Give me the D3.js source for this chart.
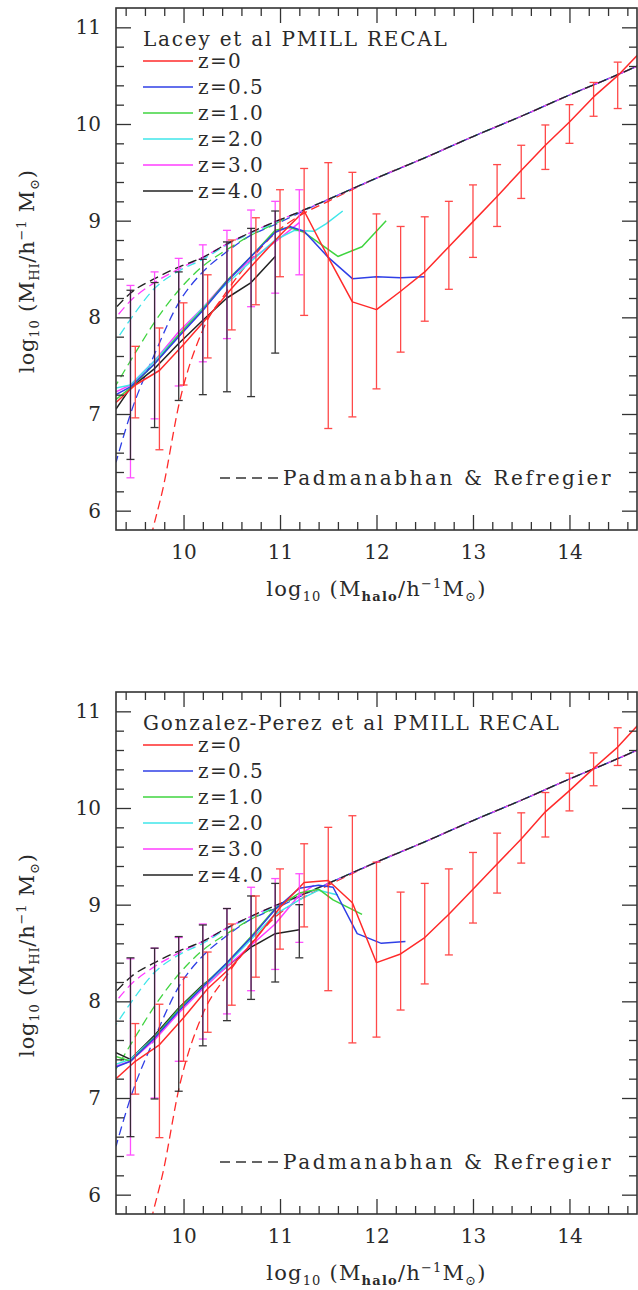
<!DOCTYPE html>
<html><head><meta charset="utf-8">
<script src="https://cdn.jsdelivr.net/npm/d3@7"></script>
<style>
body{margin:0;background:#fff}
svg{display:block}
text{font-family:"DejaVu Serif",serif;fill:#2a2a2a}
</style>
</head><body>
<svg id="chart" width="638" height="1290"></svg>
<script>
// ---------------- data ----------------
const xDomain = [9.3, 14.7];
const yDomain = [5.8, 11.2];
const xTickValues = [10, 11, 12, 13, 14];
const yTickValues = [6, 7, 8, 9, 10, 11];
const seriesLabels = ["z=0", "z=0.5", "z=1.0", "z=2.0", "z=3.0", "z=4.0"];
const seriesColors = ["#ff2a2a", "#2f3fe6", "#3fd43f", "#3fe6ea", "#ff3cff", "#222222"];
const panelTitles = ["Lacey et al PMILL RECAL", "Gonzalez-Perez et al PMILL RECAL"];
const modelLabel = "Padmanabhan & Refregier";

// z=0 bins (both panels)
const z0X = [9.3, 9.5, 9.75, 10.0, 10.25, 10.5, 10.75, 11.0, 11.25, 11.5, 11.75, 12.0, 12.25, 12.5, 12.75, 13.0, 13.25, 13.5, 13.75, 14.0, 14.25, 14.5, 14.75];
const z0BarX = [9.5, 9.75, 10.0, 10.25, 10.5, 10.75, 11.0, 11.25, 11.5, 11.75, 12.0, 12.25, 12.5, 12.75, 13.0, 13.25, 13.5, 13.75, 14.0, 14.25, 14.5];
const hiZBarX = [9.45, 9.7, 9.95, 10.2, 10.45, 10.7, 10.95, 11.2];

// --- Lacey et al (top panel) ---
const laceyZ0Y = [7.12, 7.3, 7.45, 7.72, 8.0, 8.3, 8.58, 8.85, 9.1, 8.62, 8.16, 8.08, 8.27, 8.47, 8.73, 8.99, 9.25, 9.52, 9.78, 10.02, 10.28, 10.5, 10.76];
const laceyZ05X = [9.3, 9.45, 9.7, 9.95, 10.2, 10.45, 10.7, 10.95, 11.1, 11.25, 11.5, 11.75, 12.0, 12.25, 12.5];
const laceyZ05Y = [7.2, 7.28, 7.52, 7.8, 8.07, 8.37, 8.63, 8.88, 8.94, 8.89, 8.62, 8.4, 8.42, 8.41, 8.42];
const laceyZ1X = [9.3, 9.45, 9.7, 9.95, 10.2, 10.45, 10.7, 10.95, 11.1, 11.25, 11.6, 11.85, 12.1];
const laceyZ1Y = [7.15, 7.27, 7.52, 7.82, 8.08, 8.38, 8.63, 8.9, 8.93, 8.88, 8.63, 8.73, 9.0];
const laceyZ2X = [9.3, 9.45, 9.7, 9.95, 10.2, 10.45, 10.7, 10.95, 11.15, 11.35, 11.48, 11.65];
const laceyZ2Y = [7.27, 7.3, 7.55, 7.82, 8.1, 8.35, 8.58, 8.8, 8.9, 8.89, 8.97, 9.1];
const laceyZ3X = [9.3, 9.45, 9.7, 9.95, 10.2, 10.45, 10.7, 10.95, 11.2];
const laceyZ3Y = [7.23, 7.3, 7.55, 7.85, 8.1, 8.38, 8.6, 8.78, 8.98];
const laceyZ4X = [9.3, 9.45, 9.7, 9.95, 10.2, 10.45, 10.7, 10.95];
const laceyZ4Y = [7.05, 7.27, 7.47, 7.73, 7.97, 8.2, 8.36, 8.63];
const laceyZ0Hi = [7.7, 7.89, 8.15, 8.44, 8.8, 9.03, 9.32, 9.54, 9.6, 9.5, 9.07, 8.94, 9.04, 9.2, 9.37, 9.58, 9.78, 9.99, 10.2, 10.43, 10.64];
const laceyZ0Lo = [6.96, 6.63, 7.3, 7.58, 7.87, 8.13, 8.42, 8.02, 6.85, 6.97, 7.26, 7.64, 7.96, 8.29, 8.62, 8.94, 9.23, 9.53, 9.8, 10.08, 10.16];
const laceyZ3Hi = [8.33, 8.47, 8.61, 8.75, 8.9, 9.11, 9.2, 9.32];
const laceyZ3Lo = [6.34, 6.95, 7.29, 7.54, 7.78, 8.11, 8.25, 8.44];
const laceyZ4Hi = [8.28, 8.36, 8.47, 8.6, 8.78, 8.92, 9.1];
const laceyZ4Lo = [6.53, 6.86, 7.14, 7.2, 7.23, 7.18, 7.63];

// --- Gonzalez-Perez et al (bottom panel) ---
const gpZ0Y = [7.2, 7.38, 7.55, 7.83, 8.13, 8.36, 8.65, 8.97, 9.23, 9.25, 9.02, 8.4, 8.49, 8.66, 8.9, 9.16, 9.42, 9.68, 9.96, 10.18, 10.41, 10.63, 10.9];
const gpZ05X = [9.3, 9.45, 9.7, 9.95, 10.2, 10.45, 10.7, 10.95, 11.2, 11.4, 11.55, 11.8, 12.05, 12.3];
const gpZ05Y = [7.32, 7.38, 7.62, 7.9, 8.15, 8.4, 8.66, 8.95, 9.17, 9.2, 9.18, 8.7, 8.6, 8.62];
const gpZ1X = [9.3, 9.45, 9.7, 9.95, 10.2, 10.45, 10.7, 10.95, 11.2, 11.4, 11.55, 11.85];
const gpZ1Y = [7.43, 7.38, 7.63, 7.92, 8.16, 8.4, 8.67, 8.96, 9.12, 9.16, 9.05, 8.9];
const gpZ2X = [9.3, 9.45, 9.7, 9.95, 10.2, 10.45, 10.7, 10.95, 11.2, 11.4, 11.6];
const gpZ2Y = [7.35, 7.4, 7.63, 7.9, 8.15, 8.38, 8.64, 8.9, 9.05, 9.15, 9.1];
const gpZ3X = [9.3, 9.45, 9.7, 9.95, 10.2, 10.45, 10.7, 10.95, 11.2, 11.35];
const gpZ3Y = [7.33, 7.38, 7.6, 7.88, 8.13, 8.36, 8.58, 8.8, 9.1, 9.2];
const gpZ4X = [9.3, 9.45, 9.7, 9.95, 10.2, 10.45, 10.7, 10.95, 11.2];
const gpZ4Y = [7.47, 7.4, 7.65, 7.93, 8.17, 8.36, 8.56, 8.7, 8.74];
const gpZ0Hi = [7.77, 7.97, 8.25, 8.51, 8.8, 9.09, 9.37, 9.63, 9.8, 9.92, 9.44, 9.13, 9.22, 9.37, 9.54, 9.74, 9.95, 10.16, 10.36, 10.57, 10.83];
const gpZ0Lo = [7.04, 6.59, 7.38, 7.68, 7.96, 8.25, 8.54, 8.77, 8.11, 7.57, 7.63, 7.91, 8.18, 8.48, 8.81, 9.12, 9.43, 9.7, 9.97, 10.23, 10.44];
const gpZ3Hi = [8.44, 8.55, 8.66, 8.8, 8.96, 9.18, 9.27, 9.32];
const gpZ3Lo = [6.41, 7.0, 7.38, 7.61, 7.87, 8.11, 8.33, 8.61];
const gpZ4Hi = [8.45, 8.55, 8.67, 8.79, 8.96, 9.09, 9.22, 9.0];
const gpZ4Lo = [6.6, 6.99, 7.07, 7.54, 7.8, 8.02, 8.2, 8.45];

// --- Padmanabhan & Refregier model (dashed, same in both panels) ---
const prX = [9.3, 9.45, 9.7, 9.95, 10.2, 10.45, 10.7, 10.95, 11.2, 11.5, 12.0, 12.5, 13.0, 13.5, 14.0, 14.5, 14.75];
const prZ0X = [9.6, 9.68, 9.785, 9.955, 10.2, 10.45, 10.7, 10.95, 11.2, 11.5, 12.0, 12.5, 13.0, 13.5, 14.0, 14.5, 14.75];
const prZ0Y = [5.45, 5.8, 6.22, 7.11, 7.87, 8.27, 8.6, 8.87, 9.05, 9.2, 9.44, 9.65, 9.87, 10.08, 10.3, 10.51, 10.62];
const prZ05Y = [6.5, 7.0, 7.62, 8.15, 8.47, 8.68, 8.85, 8.96, 9.08, 9.22, 9.44, 9.65, 9.87, 10.08, 10.3, 10.51, 10.62];
const prZ1Y = [7.3, 7.55, 7.95, 8.28, 8.53, 8.7, 8.85, 8.97, 9.09, 9.22, 9.44, 9.65, 9.87, 10.08, 10.3, 10.51, 10.62];
const prZ2Y = [7.76, 7.98, 8.3, 8.48, 8.6, 8.75, 8.87, 8.98, 9.09, 9.22, 9.44, 9.65, 9.87, 10.08, 10.3, 10.51, 10.62];
const prZ3Y = [8.0, 8.17, 8.36, 8.5, 8.62, 8.76, 8.88, 8.99, 9.09, 9.22, 9.44, 9.65, 9.87, 10.08, 10.3, 10.51, 10.62];
const prZ4Y = [8.1, 8.25, 8.4, 8.52, 8.62, 8.76, 8.88, 8.99, 9.09, 9.22, 9.44, 9.65, 9.87, 10.08, 10.3, 10.51, 10.62];

// ---------------- assembly ----------------
const zip = (xs, ys) => xs.map((x, i) => [x, ys[i]]);
const modelCurves = [zip(prZ0X, prZ0Y), zip(prX, prZ05Y), zip(prX, prZ1Y), zip(prX, prZ2Y), zip(prX, prZ3Y), zip(prX, prZ4Y)];

const panels = [
  {
    title: panelTitles[0],
    lines: [zip(z0X, laceyZ0Y), zip(laceyZ05X, laceyZ05Y), zip(laceyZ1X, laceyZ1Y), zip(laceyZ2X, laceyZ2Y), zip(laceyZ3X, laceyZ3Y), zip(laceyZ4X, laceyZ4Y)],
    bars: [
      {s: 4, x: hiZBarX, hi: laceyZ3Hi, lo: laceyZ3Lo},
      {s: 5, x: hiZBarX.slice(0, 7), hi: laceyZ4Hi, lo: laceyZ4Lo},
      {s: 0, x: z0BarX, hi: laceyZ0Hi, lo: laceyZ0Lo}
    ]
  },
  {
    title: panelTitles[1],
    lines: [zip(z0X, gpZ0Y), zip(gpZ05X, gpZ05Y), zip(gpZ1X, gpZ1Y), zip(gpZ2X, gpZ2Y), zip(gpZ3X, gpZ3Y), zip(gpZ4X, gpZ4Y)],
    bars: [
      {s: 4, x: hiZBarX, hi: gpZ3Hi, lo: gpZ3Lo},
      {s: 5, x: hiZBarX, hi: gpZ4Hi, lo: gpZ4Lo},
      {s: 0, x: z0BarX, hi: gpZ0Hi, lo: gpZ0Lo}
    ]
  }
];

// ---------------- drawing ----------------
const svg = d3.select("#chart");
const frameLeft = 116, frameW = 521, frameH = 522;
const panelTops = [8, 692];

const x = d3.scaleLinear().domain(xDomain).range([0, frameW]);
const y = d3.scaleLinear().domain(yDomain).range([frameH, 0]);
const minorX = d3.range(9.4, 14.75, 0.2).map(v => +v.toFixed(1)).filter(v => !xTickValues.includes(v));
const minorY = d3.range(6.0, 11.2, 0.2).map(v => +v.toFixed(1)).filter(v => !yTickValues.includes(v));

function addRich(sel, parts, size) {
  parts.forEach(p => {
    const t = sel.append("tspan").text(p.t);
    if (p.sub) { t.attr("font-size", size * 0.62).attr("dy", size * 0.22); }
    else if (p.sup) { t.attr("font-size", size * 0.62).attr("dy", -size * 0.38); }
    else t.attr("font-size", size);
    if (p.bold) t.attr("font-weight", "bold");
    if (p.reset) t.attr("dy", p.reset);
  });
}

panels.forEach((panel, pi) => {
  const g = svg.append("g").attr("transform", `translate(${frameLeft},${panelTops[pi]})`);
  const clipId = "clip" + pi;
  g.append("clipPath").attr("id", clipId).append("rect").attr("width", frameW).attr("height", frameH);
  const plot = g.append("g").attr("clip-path", `url(#${clipId})`);

  // model dashed curves
  const smooth = d3.line().x(d => x(d[0])).y(d => y(d[1])).curve(d3.curveMonotoneX);
  modelCurves.forEach((c, i) => {
    plot.append("path").attr("d", smooth(c)).attr("fill", "none")
      .attr("stroke", seriesColors[i]).attr("stroke-width", 1.3)
      .attr("stroke-dasharray", "9,5").attr("stroke-dashoffset", i * 2.5);
  });

  // solid lines
  const lin = d3.line().x(d => x(d[0])).y(d => y(d[1]));
  [5, 4, 3, 2, 1, 0].forEach(i => {
    plot.append("path").attr("d", lin(panel.lines[i])).attr("fill", "none")
      .attr("stroke", seriesColors[i]).attr("stroke-width", 1.5).attr("stroke-linejoin", "round");
  });

  // error bars
  panel.bars.forEach(b => {
    const col = seriesColors[b.s];
    const eg = plot.append("g").attr("stroke", col).attr("stroke-width", 1.3)
      .attr("opacity", b.s === 0 ? 0.85 : 0.9);
    b.x.forEach((xv, k) => {
      const px = x(xv);
      eg.append("line").attr("x1", px).attr("x2", px).attr("y1", y(b.hi[k])).attr("y2", y(b.lo[k]));
      eg.append("line").attr("x1", px - 4).attr("x2", px + 4).attr("y1", y(b.hi[k])).attr("y2", y(b.hi[k]));
      eg.append("line").attr("x1", px - 4).attr("x2", px + 4).attr("y1", y(b.lo[k])).attr("y2", y(b.lo[k]));
    });
  });

  // axes (ticks inward on all sides)
  const axStyle = a => {
    a.select(".domain").remove();
    a.selectAll("line").attr("stroke", "#333").attr("stroke-width", 1.3);
    a.selectAll("text").attr("font-family", "DejaVu Serif, serif").attr("font-size", 20).attr("fill", "#2a2a2a");
  };
  g.append("g").attr("transform", `translate(0,${frameH})`)
    .call(d3.axisBottom(x).tickValues(xTickValues).tickFormat(d3.format("d")).tickSizeInner(-15).tickSizeOuter(0).tickPadding(15)).call(axStyle);
  g.append("g").attr("transform", `translate(0,${frameH})`)
    .call(d3.axisBottom(x).tickValues(minorX).tickFormat("").tickSizeInner(-8).tickSizeOuter(0)).call(axStyle);
  g.append("g").call(d3.axisTop(x).tickValues(xTickValues).tickFormat("").tickSizeInner(-15).tickSizeOuter(0)).call(axStyle);
  g.append("g").call(d3.axisTop(x).tickValues(minorX).tickFormat("").tickSizeInner(-8).tickSizeOuter(0)).call(axStyle);
  g.append("g").call(d3.axisLeft(y).tickValues(yTickValues).tickFormat(d3.format("d")).tickSizeInner(-15).tickSizeOuter(0).tickPadding(15)).call(axStyle);
  g.append("g").call(d3.axisLeft(y).tickValues(minorY).tickFormat("").tickSizeInner(-8).tickSizeOuter(0)).call(axStyle);
  g.append("g").attr("transform", `translate(${frameW},0)`)
    .call(d3.axisRight(y).tickValues(yTickValues).tickFormat("").tickSizeInner(-15).tickSizeOuter(0)).call(axStyle);
  g.append("g").attr("transform", `translate(${frameW},0)`)
    .call(d3.axisRight(y).tickValues(minorY).tickFormat("").tickSizeInner(-8).tickSizeOuter(0)).call(axStyle);

  g.append("rect").attr("width", frameW).attr("height", frameH).attr("fill", "none")
    .attr("stroke", "#333").attr("stroke-width", 1.6);

  // legend
  g.append("text").attr("x", 27).attr("y", 38).attr("font-size", 20).attr("letter-spacing", 1.8).text(panel.title);
  seriesLabels.forEach((lab, i) => {
    const ly = 53 + i * 26;
    g.append("line").attr("x1", 27).attr("x2", 77).attr("y1", ly).attr("y2", ly)
      .attr("stroke", seriesColors[i]).attr("stroke-width", 1.6);
    g.append("text").attr("x", 82).attr("y", ly).attr("dy", "0.36em").attr("font-size", 20)
      .attr("letter-spacing", 1.4).text(lab);
  });
  const my = frameH - 52;
  g.append("line").attr("x1", 104).attr("x2", 162).attr("y1", my).attr("y2", my)
    .attr("stroke", "#333").attr("stroke-width", 1.3).attr("stroke-dasharray", "10,6");
  g.append("text").attr("x", 167).attr("y", my).attr("dy", "0.36em").attr("font-size", 20)
    .attr("letter-spacing", 2.6).text(modelLabel);

  // axis titles
  const fs = 21;
  const xt = g.append("text").attr("x", frameW / 2).attr("y", frameH + 66).attr("text-anchor", "middle").attr("letter-spacing", 1.2);
  addRich(xt, [{t: "log"}, {t: "10", sub: true}, {t: " (M", reset: -fs * 0.22}, {t: "halo", sub: true, bold: true},
               {t: "/h", reset: -fs * 0.22}, {t: "−1", sup: true}, {t: "M", reset: fs * 0.38}, {t: "⊙", sub: true}, {t: ")", reset: -fs * 0.22}], fs);
  const yt = g.append("text").attr("transform", `translate(${34 - frameLeft},${frameH / 2 + 2}) rotate(-90)`).attr("text-anchor", "middle").attr("letter-spacing", 0.8);
  addRich(yt, [{t: "log"}, {t: "10", sub: true}, {t: " (M", reset: -fs * 0.22}, {t: "HI", sub: true},
               {t: "/h", reset: -fs * 0.22}, {t: "−1", sup: true}, {t: " M", reset: fs * 0.38}, {t: "⊙", sub: true}, {t: ")", reset: -fs * 0.22}], fs);
});
</script>
</body></html>
